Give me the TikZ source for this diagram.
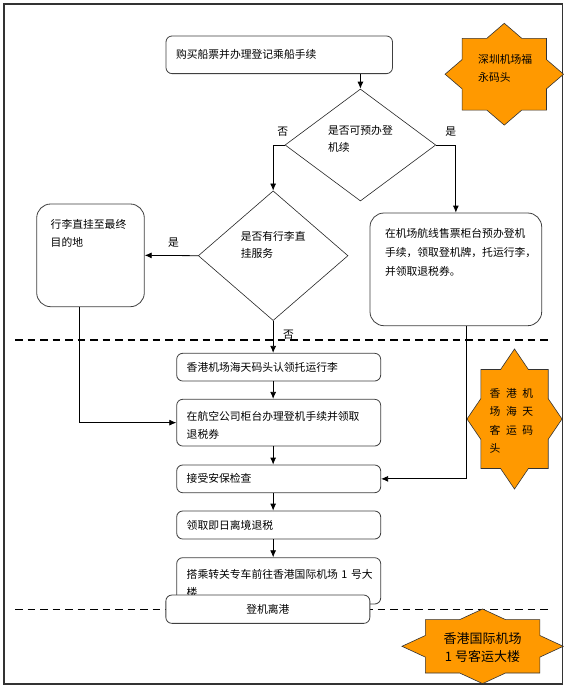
\documentclass[tikz,border=0pt]{standalone}
\usepackage{fontspec}
\setmainfont{Noto Sans CJK SC}
\usepackage{tikz}
\usetikzlibrary{shapes.geometric, arrows.meta, positioning, calc}

\definecolor{starorange}{HTML}{FF9900}
\definecolor{boxline}{HTML}{404040}

% centre x, centre y, box half width/height, diamond half width/height
\newcommand{\octstar}[6]{%
  \pgfmathsetmacro{\tipx}{#5*(1-#4/#6)}%
  \pgfmathsetmacro{\tipy}{#6*(1-#3/#5)}%
  \filldraw[fill=starorange, draw=black!80, line width=0.6pt]
    (#1,#2-#6) -- (#1+\tipx,#2-#4) -- (#1+#3,#2-#4) -- (#1+#3,#2-\tipy) --
    (#1+#5,#2) -- (#1+#3,#2+\tipy) -- (#1+#3,#2+#4) -- (#1+\tipx,#2+#4) --
    (#1,#2+#6) -- (#1-\tipx,#2+#4) -- (#1-#3,#2+#4) -- (#1-#3,#2+\tipy) --
    (#1-#5,#2) -- (#1-#3,#2-\tipy) -- (#1-#3,#2-#4) -- (#1-\tipx,#2-#4) -- cycle;
}

\begin{document}
\begin{tikzpicture}[
        x=1pt, y=-1pt,
        font=\fontsize{10.8}{18}\selectfont,
        box/.style={rectangle, draw=boxline, fill=white, line width=0.8pt, rounded corners=6pt,
            inner xsep=10pt, inner ysep=0pt, align=left, text width=184pt, minimum height=#1},
        box/.default=27.7pt,
        tallbox/.style={box, rounded corners=14pt, inner xsep=14pt, text height=24.2pt},
        ask/.style={diamond, draw=black!85, line width=0.6pt, inner sep=0pt, align=left,
            text height=26pt, font=\fontsize{10.8}{17}\selectfont},
        lbl/.style={inner sep=0pt},
        arr/.style={-{Latex[length=7pt, width=6pt]}, line width=0.8pt},
        sep/.style={dashed, dash pattern=on 7.5pt off 5pt, line width=1.6pt},
        startext/.style={inner sep=0pt, align=left}
    ]
    \fill[white] (0,0) rectangle (568,691);
    \useasboundingbox (0,0) rectangle (568,691);
    \draw[line width=1.5pt, draw=black!80] (4,4) rectangle (562.5,684);

    \draw[sep] (15,340) -- (548,340);
    \draw[sep] (15,609.3) -- (550,609.3);

    \octstar{504.3}{74.2}{42.2}{35.9}{59.2}{50.9}
    \octstar{514.5}{419}{33.7}{49.5}{47.5}{70}
    \octstar{482.6}{646.3}{57.2}{26.7}{80.6}{37.3}
    \node[startext, anchor=west, font=\fontsize{10.8}{18.4}\selectfont] (szport) at (478,68.5) {深圳机场福\\永码头};
    \node[startext, anchor=west, font=\fontsize{10.8}{18.3}\selectfont] (hkport) at (489.5,420.8)
        {香\hspace{5.5pt}港\hspace{5.5pt}机\\场\hspace{5.5pt}海\hspace{5.5pt}天\\客\hspace{5.5pt}运\hspace{5.5pt}码\\头};
    \node[startext, align=center, font=\fontsize{13}{17.7}\selectfont] (hkairport) at (482.5,647.9) {香港国际机场\\1 号客运大楼};

    \node[box=37.6pt, text width=206.5pt] (buy) at (279.25,54.8) {购买船票并办理登记乘船手续};
    \node[ask, minimum width=150.7pt, minimum height=112pt, text depth=13.8pt] (canpre) at (360.4,145) {是否可预办登\\机续};
    \node[ask, minimum width=149.7pt, minimum height=129.7pt, text depth=23.2pt] (direct) at (273.15,255.7) {是否有行李直\\挂服务};
    \node[tallbox, text width=79.6pt, text depth=78.5pt] (bag) at (90.5,255.35) {行李直挂至最终\\目的地};
    \node[tallbox, inner xsep=15pt, text width=141.7pt, text depth=88.5pt, font=\fontsize{10.8}{19}\selectfont] (pre) at (455.85,269.35)
        {在机场航线售票柜台预办登机\\手续，领取登机牌，托运行李，\\并领取退税券。};

    \node[box] (claim) at (278.7,367.15) {香港机场海天码头认领托运行李};
    \node[box=46.7pt, text height=15pt, text depth=19.5pt, below=17.5pt of claim] (check) {在航空公司柜台办理登机手续并领取\\退税券};
    \node[box, below=18.2pt of check] (sec) {接受安保检查};
    \node[box=28pt, below=17.5pt of sec] (refund) {领取即日离境退税};
    \node[box=46.3pt, text height=15pt, text depth=19.5pt, below=17.9pt of refund] (bus) {搭乘转关专车前往香港国际机场~1~号大\\楼};
    \node[box=28.3pt, align=center] (board) at (267.85,609.2) {登机离港};

    \draw[arr] (canpre.north |- buy.south) -- (canpre.north);
    \draw[arr] (canpre.west) -| node[lbl, above=8pt, pos=0.085] (no1) {否} (direct.north);
    \draw[arr] (canpre.east) -| node[lbl, above=8pt, pos=0.37] (yes1) {是} (pre.north);
    \draw[arr] (direct.west) -- node[lbl, above=8pt, pos=0.46] (yes2) {是} (bag.east);
    \draw[arr] (direct.south) -- node[lbl, right=9.5pt, pos=0.44] (no2) {否} (direct.south |- claim.north);
    \draw[arr] (claim.south -| direct.south) -- (check.north -| direct.south);
    \draw[arr] (check.south -| direct.south) -- (sec.north -| direct.south);
    \draw[arr] (sec.south -| direct.south) -- (refund.north -| direct.south);
    \draw[arr] (refund.south -| direct.south) -- (bus.north -| direct.south);
    \draw[arr] ([xshift=-11.2pt]bag.south) |- (check.west);
    \draw[arr] ([xshift=10.8pt]pre.south) |- (sec.east);
\end{tikzpicture}
\end{document}
